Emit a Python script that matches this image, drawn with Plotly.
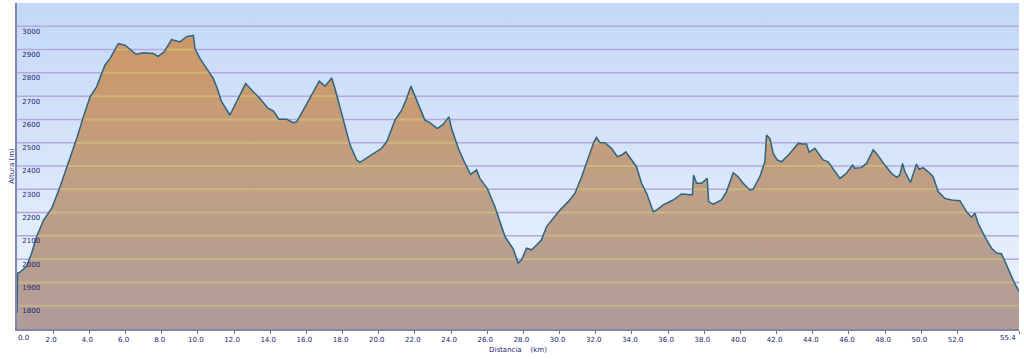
import plotly.graph_objects as go

# ---- data ----
distance_km = [
    0.00, 0.03, 0.17, 0.53, 0.81, 1.09, 1.47, 1.92, 2.38, 2.84, 3.30, 3.67, 4.04, 4.40,
    4.86, 5.14, 5.60, 5.97, 6.58, 6.98, 7.54, 7.81, 8.13, 8.55, 9.01, 9.38, 9.75, 9.84,
    10.12, 10.48, 10.85, 11.04, 11.31, 11.77, 12.14, 12.64, 12.97, 13.43, 13.89, 14.17,
    14.48, 14.91, 15.27, 15.46, 15.83, 16.29, 16.47, 16.71, 17.03, 17.40, 17.58, 18.04,
    18.41, 18.78, 18.96, 19.51, 20.16, 20.44, 20.90, 21.27, 21.54, 21.78, 22.09, 22.55,
    22.83, 23.24, 23.57, 23.88, 24.03, 24.40, 24.77, 25.08, 25.41, 25.59, 26.00, 26.42,
    26.98, 27.44, 27.71, 27.90, 28.17, 28.45, 28.73, 29.00, 29.28, 29.65, 30.02, 30.48,
    30.85, 31.22, 31.58, 31.90, 32.04, 32.23, 32.50, 32.87, 33.19, 33.43, 33.66, 33.98,
    34.25, 34.53, 34.81, 35.18, 35.36, 35.73, 36.28, 36.74, 37.30, 37.34, 37.41, 37.57,
    37.85, 38.03, 38.16, 38.24, 38.49, 38.95, 39.23, 39.60, 39.87, 40.15, 40.52, 40.70,
    41.07, 41.35, 41.44, 41.63, 41.81, 42.03, 42.27, 42.73, 43.19, 43.47, 43.65, 43.80,
    44.11, 44.57, 44.85, 45.50, 45.86, 46.20, 46.32, 46.69, 46.97, 47.34, 47.52, 47.98,
    48.35, 48.63, 48.81, 48.96, 49.09, 49.40, 49.64, 49.73, 49.88, 50.10, 50.47, 50.65,
    50.93, 51.30, 51.67, 52.13, 52.50, 52.77, 52.96, 53.14, 53.51, 53.88, 54.16, 54.43,
    54.71, 55.07, 55.40,
]
altitude_m = [
    1770, 1940, 1944, 1969, 2026, 2097, 2168, 2219, 2311, 2411, 2518, 2611, 2697, 2740,
    2833, 2861, 2926, 2919, 2880, 2886, 2883, 2871, 2890, 2943, 2933, 2955, 2961, 2904,
    2861, 2819, 2776, 2740, 2676, 2619, 2676, 2754, 2726, 2690, 2647, 2637,
    2601, 2601, 2586, 2590, 2640, 2704, 2726, 2764, 2743, 2778, 2733, 2597,
    2492, 2426, 2416, 2443, 2476, 2504, 2597, 2640, 2690, 2743, 2683, 2597,
    2586, 2561, 2580, 2611, 2561, 2476, 2411, 2364, 2383, 2347, 2304, 2226,
    2097, 2043, 1983, 1997, 2047, 2040, 2061, 2083, 2140, 2176, 2211, 2247,
    2283, 2354, 2433, 2504, 2523, 2500, 2500, 2476, 2440, 2447, 2461, 2426,
    2397, 2326, 2283, 2204, 2211, 2233, 2254, 2280, 2276, 2276, 2361, 2326,
    2326, 2340, 2347, 2247, 2236, 2254, 2290, 2371, 2354, 2326, 2297, 2300,
    2354, 2418, 2533, 2518, 2454, 2426, 2418, 2454, 2497, 2494, 2494, 2459,
    2476, 2426, 2418, 2347, 2369, 2404, 2390, 2393, 2411, 2469, 2454, 2404,
    2369, 2351, 2361, 2411, 2376, 2329, 2383, 2408, 2386, 2393, 2369, 2354,
    2290, 2261, 2254, 2251, 2204, 2180, 2197, 2154, 2097, 2047, 2026, 2023,
    1976, 1911, 1861,
]
x_tick_values = [0, 2, 4, 6, 8, 10, 12, 14, 16, 18, 20, 22, 24, 26, 28, 30, 32, 34, 36,
                 38, 40, 42, 44, 46, 48, 50, 52, 55.4]
y_tick_values = [1800, 1900, 2000, 2100, 2200, 2300, 2400, 2500, 2600, 2700, 2800, 2900, 3000]
x_title = "Distancia\u00a0\u00a0\u00a0\u00a0(km)"
y_title = "Altura\u00a0(m)"

X_RANGE = [0, 55.4]
Y_RANGE = [1700, 3100]

# ---- helpers ----
def is_edge(v):
    return v in (X_RANGE[0], X_RANGE[1])


def grid_under_terrain(xs, ys, levels):
    gx, gy = [], []
    for lvl in levels:
        for i in range(len(xs)):
            above = ys[i] >= lvl
            if i > 0:
                x0, y0, x1, y1 = xs[i - 1], ys[i - 1], xs[i], ys[i]
                was = y0 >= lvl
                if was != above:
                    xc = x0 + (x1 - x0) * (y0 - lvl) / (y0 - y1)
                    gx.append(xc); gy.append(lvl)
                    if was:
                        gx.append(None); gy.append(None)
            if above:
                gx.append(xs[i]); gy.append(lvl)
        gx.append(None); gy.append(None)
    return gx, gy


fig = go.Figure()

# sky background
fig.add_trace(go.Scatter(
    x=[X_RANGE[0], X_RANGE[1], X_RANGE[1], X_RANGE[0], X_RANGE[0]],
    y=[Y_RANGE[0], Y_RANGE[0], Y_RANGE[1], Y_RANGE[1], Y_RANGE[0]],
    mode="lines", fill="toself", line=dict(width=0),
    fillgradient=dict(type="vertical", start=Y_RANGE[0], stop=Y_RANGE[1],
                      colorscale=[[0, "#eef4fd"], [1, "#c3d8f7"]]),
    hoverinfo="skip", showlegend=False,
))

# purple grid lines (sky)
sx, sy = [], []
for lvl in y_tick_values:
    sx += [X_RANGE[0], X_RANGE[1], None]
    sy += [lvl, lvl, None]
fig.add_trace(go.Scatter(x=sx, y=sy, mode="lines",
                         line=dict(color="#b6a8dc", width=1.5),
                         hoverinfo="skip", showlegend=False))

# terrain fill
fig.add_trace(go.Scatter(
    x=distance_km, y=altitude_m, mode="lines", fill="tozeroy",
    line=dict(width=0),
    fillgradient=dict(type="vertical", start=Y_RANGE[0], stop=max(altitude_m),
                      colorscale=[[0, "#b09c9a"], [0.45, "#be9f86"], [1, "#cd9866"]]),
    hoverinfo="skip", showlegend=False,
))

# yellowish grid lines over terrain
gx, gy = grid_under_terrain(distance_km, altitude_m, y_tick_values)
fig.add_trace(go.Scatter(x=gx, y=gy, mode="lines",
                         line=dict(color="rgba(222,216,128,0.42)", width=2),
                         hoverinfo="skip", showlegend=False))

# terrain outline
fig.add_trace(go.Scatter(
    x=distance_km, y=altitude_m, mode="lines",
    line=dict(color="#2e6383", width=1.5),
    hovertemplate="%{x:.1f} km<br>%{y} m<extra></extra>", showlegend=False,
))

tick_font = dict(family="DejaVu Sans", size=7, color="#24246f")

# edge tick labels (kept inside the picture, as in the reference)
fig.add_annotation(x=X_RANGE[0], y=0, xref="x", yref="paper",
                   text=f"{X_RANGE[0]:.1f}", showarrow=False, font=tick_font,
                   xanchor="left", yanchor="top", xshift=-1, yshift=-3)
fig.add_annotation(x=X_RANGE[1], y=0, xref="x", yref="paper",
                   text=f"{X_RANGE[1]:.1f}", showarrow=False, font=tick_font,
                   xanchor="right", yanchor="top", xshift=-1, yshift=-3)

fig.update_layout(
    width=1024, height=359,
    margin=dict(l=17, r=5, t=3, b=30),
    paper_bgcolor="white", plot_bgcolor="white",
    showlegend=False,
    xaxis=dict(
        range=X_RANGE, tickmode="array", tickvals=x_tick_values,
        ticktext=["" if is_edge(v) else f"{v:.1f}" for v in x_tick_values],
        ticks="outside", ticklen=3, tickwidth=1, tickcolor="#6a6aa0",
        ticklabelshift=-2,
        showline=True, linecolor="#8484ac", linewidth=2,
        showgrid=False, zeroline=False, tickfont=tick_font,
        title=dict(text=x_title, font=tick_font, standoff=4),
        automargin=False,
    ),
    yaxis=dict(
        range=Y_RANGE, tickmode="array", tickvals=y_tick_values,
        ticklabelposition="inside", ticklabelshift=5, ticklabelstandoff=4,
        ticks="", showline=True, linecolor="#7d88b4", linewidth=1.5,
        showgrid=False, zeroline=False, tickfont=tick_font,
        title=dict(text=y_title, font=tick_font, standoff=7),
        automargin=False,
    ),
)

fig.write_html("out.html",
               config={"displayModeBar": False},
               post_script="document.body.style.margin='0px';document.body.style.overflow='hidden';")
